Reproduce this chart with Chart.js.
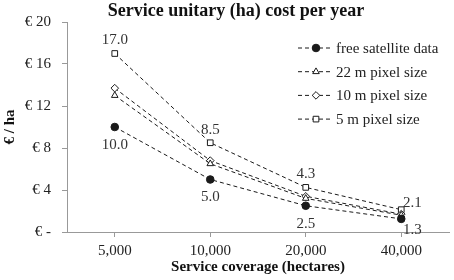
<!DOCTYPE html>
<html>
<head>
<meta charset="utf-8">
<script src="https://cdn.jsdelivr.net/npm/chart.js@4/dist/chart.umd.min.js"></script>
<style>
  body { margin: 0; background: #fff; }
  #wrap { width: 454px; height: 280px; }
</style>
</head>
<body>
<div id="wrap"><canvas id="chart-cost" width="454" height="280"></canvas></div>
<script>
  /* ================= DATA ================= */
  const coverage = ["5,000", "10,000", "20,000", "40,000"];
  const seriesNames = ["free satellite data", "22 m pixel size", "10 m pixel size", "5 m pixel size"];
  const freeData = [10.0, 5.0, 2.5, 1.25];
  const px22Data = [13.0, 6.5, 3.2, 1.6];
  const px10Data = [13.7, 6.8, 3.4, 1.7];
  const px5Data = [17.0, 8.5, 4.25, 2.125];
  const yTicks = [0, 4, 8, 12, 16, 20];

  const FONT = "'Liberation Serif', 'Times New Roman', serif";
  const INK = "#1a1a1a";

  let baseSet = (label, data, style, fill) => ({
    label,
    data,
    borderColor: INK,
    borderWidth: 1,
    borderDash: [4, 3],
    pointStyle: style,
    pointRadius: style === "rect" ? 4 : 3.8,
    pointBackgroundColor: fill,
    pointBorderColor: INK,
    pointBorderWidth: 1,
    tension: 0
  });

  /* labels: only free (below) and 5 m (above) */
  const valueLabels = {
    id: "valueLabels",
    afterDatasetsDraw(chart) {
      let ctx = chart.ctx;
      ctx.save();
      ctx.font = "15px " + FONT;
      ctx.fillStyle = "#333";
      ctx.textAlign = "center";
      ctx.textBaseline = "middle";
      [[0, 1], [3, -1]].forEach(([ds, dir]) => {
        let meta = chart.getDatasetMeta(ds);
        meta.data.forEach((pt, i) => {
          let v = chart.data.datasets[ds].data[i];
          let last = i === meta.data.length - 1;
          let dx = last ? 11 : 0;
          let dy = last ? (dir > 0 ? 11 : -7) : (dir > 0 ? 18 : -13);
          ctx.fillText(v.toFixed(1), pt.x + dx, pt.y + dy);
        });
      });
      ctx.restore();
    }
  };

  /* legend + title drawn by hand (excel style) */
  const extras = {
    id: "extras",
    afterDraw(chart) {
      let ctx = chart.ctx;
      ctx.save();
      ctx.fillStyle = "#111";
      ctx.font = "bold 18px " + FONT;
      ctx.textAlign = "center";
      ctx.textBaseline = "middle";
      ctx.fillText("Service unitary (ha) cost per year", 236, 11);

      ctx.font = "15px " + FONT;
      ctx.textAlign = "left";
      chart.data.datasets.forEach((ds, i) => {
        let y = 48 + i * 23.7;
        ctx.strokeStyle = INK;
        ctx.lineWidth = 1;
        ctx.setLineDash([4, 3]);
        ctx.beginPath();
        ctx.moveTo(298, y);
        ctx.lineTo(331, y);
        ctx.stroke();
        ctx.setLineDash([]);
        ctx.fillStyle = ds.pointBackgroundColor;
        Chart.helpers.drawPoint(ctx, {
          pointStyle: ds.pointStyle,
          radius: ds.pointRadius,
          rotation: 0,
          borderWidth: 1
        }, 316, y);
        ctx.fillStyle = "#222";
        ctx.fillText(ds.label, 336, y + 1);
      });
      ctx.restore();
    }
  };

  /** @type {HTMLCanvasElement} */
  let canvasCost = document.getElementById("chart-cost").getContext("2d");

  let costChart = new Chart(canvasCost, {
    type: "line",
    data: {
      labels: coverage,
      datasets: [
        baseSet(seriesNames[0], freeData, "circle", INK),
        baseSet(seriesNames[1], px22Data, "triangle", "#fff"),
        baseSet(seriesNames[2], px10Data, "rectRot", "#fff"),
        baseSet(seriesNames[3], px5Data, "rect", "#fff")
      ]
    },
    options: {
      responsive: false,
      animation: false,
      layout: { padding: { top: 22, right: 3, left: 0, bottom: 0 } },
      plugins: {
        legend: { display: false },
        title: { display: false },
        tooltip: { enabled: false }
      },
      scales: {
        x: {
          offset: true,
          grid: { drawOnChartArea: false, drawTicks: true, tickLength: 5, color: "#999", offset: false },
          border: { color: "#999" },
          ticks: { font: { family: FONT, size: 15 }, color: "#222", padding: 5, maxRotation: 0 },
          title: {
            display: true,
            text: "Service coverage (hectares)",
            font: { family: FONT, size: 15, weight: "bold" },
            color: "#111",
            padding: { top: 0, bottom: 4 }
          },
          afterFit(scale) { scale.height = 48; }
        },
        y: {
          min: 0,
          max: 20,
          afterBuildTicks(scale) { scale.ticks = yTicks.map(v => ({ value: v })); },
          grid: { drawOnChartArea: false, drawTicks: true, tickLength: 5, color: "#999" },
          border: { color: "#999" },
          ticks: {
            font: { family: FONT, size: 15 },
            color: "#222",
            padding: 11,
            callback: v => v === 0 ? "\u20AC -" : "\u20AC " + v
          },
          title: {
            display: true,
            text: "\u20AC / ha",
            font: { family: FONT, size: 15, weight: "bold" },
            color: "#111",
            padding: { top: 1, bottom: 0 }
          },
          afterFit(scale) { scale.width = 67; }
        }
      }
    },
    plugins: [valueLabels, extras]
  });
</script>
</body>
</html>
